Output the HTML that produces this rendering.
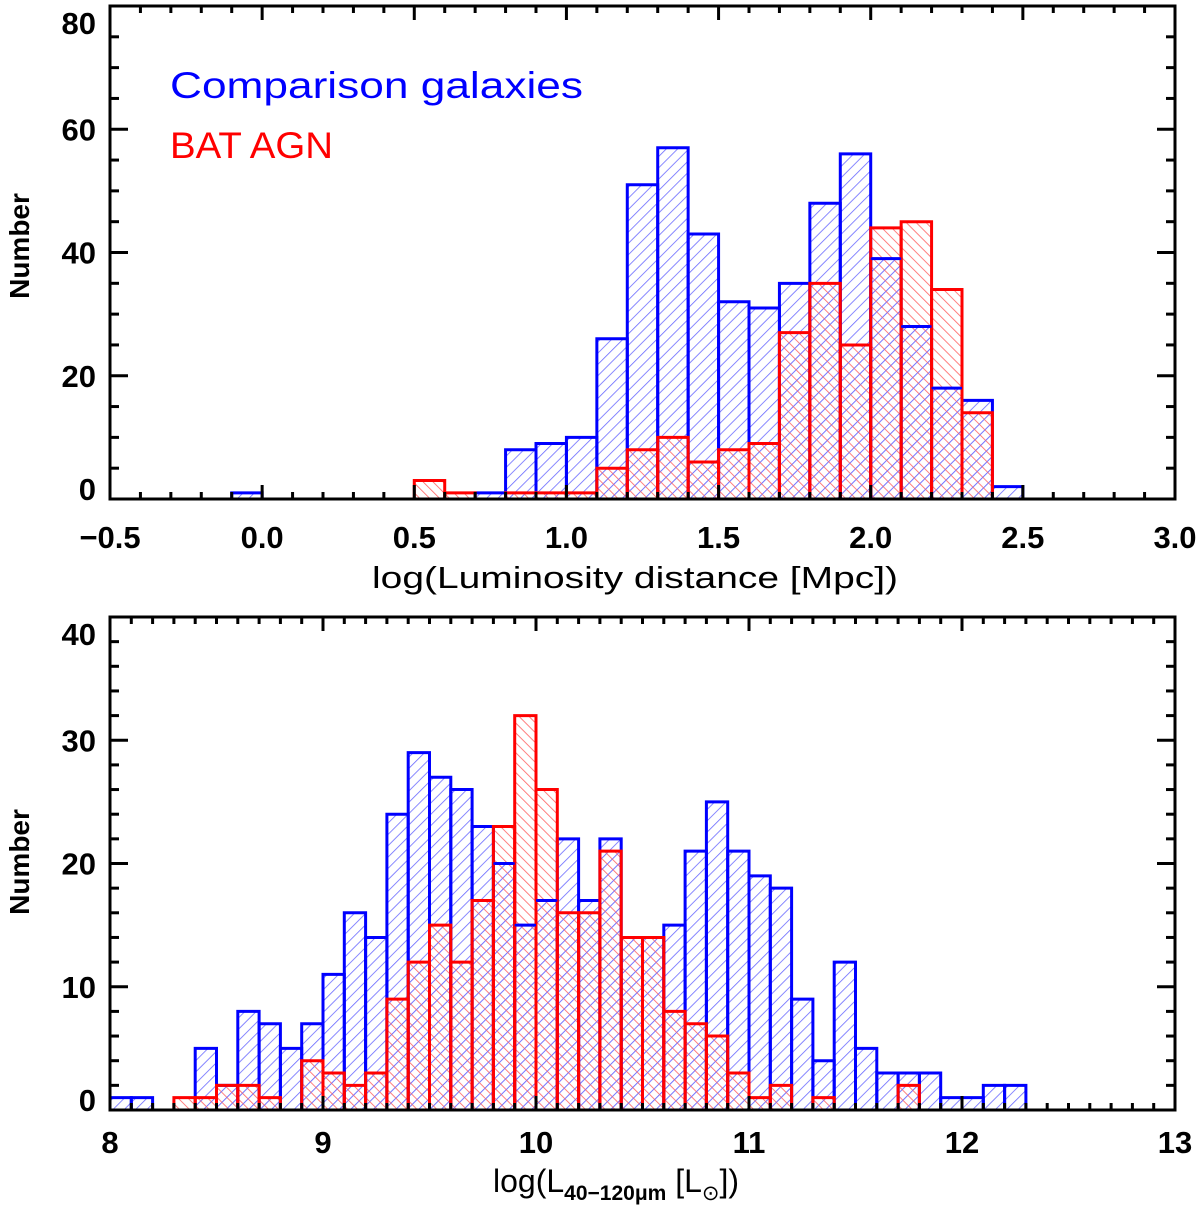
<!DOCTYPE html>
<html><head><meta charset="utf-8"><style>
html,body{margin:0;padding:0;background:#fff}
svg{display:block}
text{font-family:"Liberation Sans",sans-serif;fill:#000}
</style></head><body>
<svg id="chart" width="1200" height="1215" viewBox="0 0 1200 1215" xmlns="http://www.w3.org/2000/svg">
<defs>
<pattern id="hb" patternUnits="userSpaceOnUse" width="8" height="8" patternTransform="rotate(45)"><line x1="0" y1="0" x2="0" y2="8" stroke="#6a6aff" stroke-width="1.6"/></pattern>
<pattern id="hr" patternUnits="userSpaceOnUse" width="7" height="7" patternTransform="rotate(-45)"><line x1="0" y1="0" x2="0" y2="7" stroke="#ff6a6a" stroke-width="1.7"/></pattern>
</defs>
<g id="top"></g>
<g id="bot"></g>
<text x="170" y="98" font-size="37" style="fill:#0000ff" textLength="413" lengthAdjust="spacingAndGlyphs">Comparison galaxies</text>
<text x="170" y="158" font-size="37" style="fill:#ff0000" textLength="163" lengthAdjust="spacingAndGlyphs">BAT AGN</text>
<text x="372" y="588" font-size="31" textLength="526" lengthAdjust="spacingAndGlyphs">log(Luminosity distance [Mpc])</text>
<text x="493" y="1192" font-size="32">log(L<tspan font-size="21" dy="8" font-weight="bold">40−120μm</tspan><tspan dy="-8"> [L</tspan><tspan font-size="21" dy="8">⊙</tspan><tspan dy="-8">])</tspan></text>
<text transform="translate(29,246) rotate(-90)" font-size="28" font-weight="bold" text-anchor="middle">Number</text>
<text transform="translate(29,862) rotate(-90)" font-size="28" font-weight="bold" text-anchor="middle">Number</text>
</svg>
<script>
// Top panel data (bins of 0.1 starting at -0.1)
const topStart = -0.1;
const topBlue = [1,0,0,0,0,0,0,0,1,8,9,10,26,51,57,43,32,31,35,48,56,39,28,18,16,2];
const topRed  = [0,0,0,0,0,0,3,1,0,1,1,1,5,8,10,6,8,9,27,35,25,44,45,34,14,0];
const topXTicks = ["−0.5","0.0","0.5","1.0","1.5","2.0","2.5","3.0"];
const topYTicks = ["0","20","40","60","80"];
// Bottom panel data (bins of 0.1 starting at 8.0)
const botStart = 8.0;
const botBlue = [1,1,0,0,5,2,8,7,5,7,11,16,14,24,29,27,26,23,20,15,17,22,17,22,14,14,15,21,25,21,19,18,9,4,12,5,3,3,3,1,1,2,2];
const botRed  = [0,0,0,1,1,2,2,1,0,4,3,2,3,9,12,15,12,17,23,32,26,16,16,21,14,14,8,7,6,3,1,2,0,1,0,0,0,2,0,0,0,0,0];
const botXTicks = ["8","9","10","11","12","13"];
const botYTicks = ["0","10","20","30","40"];

const NS="http://www.w3.org/2000/svg";
function mk(parent,tag,attrs){const e=document.createElementNS(NS,tag);for(const k in attrs)e.setAttribute(k,attrs[k]);parent.appendChild(e);return e;}

function panel(g,cfg){
  const {x0,x1,y0,y1,xmin,xmax,ymax,start,blue,red,xt,yt,xMajor,xMinor,yMajor,yMinor,xlab}=cfg;
  const sx=v=>x0+(v-xmin)/(xmax-xmin)*(x1-x0);
  const sy=v=>y1-v/ymax*(y1-y0);
  blue.forEach((v,i)=>{ if(!v) return;
    const r=mk(g,'rect',{x:sx(start+i*0.1),y:sy(v),width:sx(start+(i+1)*0.1)-sx(start+i*0.1),height:sy(0)-sy(v),fill:'url(#hb)'});
    
    
  });
  red.forEach((v,i)=>{ if(!v) return;
    const r=mk(g,'rect',{x:sx(start+i*0.1),y:sy(v),width:sx(start+(i+1)*0.1)-sx(start+i*0.1),height:sy(0)-sy(v),fill:'url(#hr)'});
    
    
  });
  red.forEach((v,i)=>{ const b=Math.min(v,blue[i]); if(!b) return;
    mk(g,'rect',{x:sx(start+i*0.1),y:sy(b),width:sx(start+(i+1)*0.1)-sx(start+i*0.1),height:sy(0)-sy(b),fill:'url(#hb)',opacity:0.6});
  });
  function outline(arr,color){
    for(let i=0;i<arr.length;i++){
      const v=arr[i]; if(!v) continue;
      const a=sx(start+i*0.1), b=sx(start+(i+1)*0.1);
      mk(g,'path',{d:`M${a},${sy(0)}V${sy(v)}H${b}V${sy(0)}`,fill:'none',stroke:color,'stroke-width':3});
    }
  }
  outline(blue,'#0000ff');
  outline(red,'#ff0000');
  blue.forEach((v,i)=>{ if(v && red[i]>v){
    mk(g,'line',{x1:sx(start+i*0.1),x2:sx(start+(i+1)*0.1),y1:sy(v),y2:sy(v),stroke:'#0000ff','stroke-width':2.5,'stroke-dasharray':'8,6'});
  }});
  const f=mk(g,'rect',{x:x0,y:y0,width:x1-x0,height:y1-y0,fill:'none',stroke:'#000','stroke-width':3});
  
  
  for(let v=xmin;v<=xmax+1e-9;v+=xMinor){
    const isMaj=Math.abs(v/xMajor-Math.round(v/xMajor))<1e-6;
    const L=isMaj?14:7, x=sx(v);
    mk(g,'line',{x1:x,x2:x,y1:y1,y2:y1-L,stroke:'#000','stroke-width':3});
    mk(g,'line',{x1:x,x2:x,y1:y0,y2:y0+L,stroke:'#000','stroke-width':3});
  }
  xt.forEach((t,i)=>{const v=xmin+i*xMajor;
    const e=mk(g,'text',{x:sx(v),y:y1+xlab,'font-size':31,'font-weight':'bold','text-anchor':'middle'});e.textContent=t;
    
    
  });
  for(let v=0;v<=ymax+1e-9;v+=yMinor){
    const isMaj=Math.abs(v/yMajor-Math.round(v/yMajor))<1e-6;
    const L=isMaj?18:9, y=sy(v);
    mk(g,'line',{x1:x0,x2:x0+L,y1:y,y2:y,stroke:'#000','stroke-width':3});
    mk(g,'line',{x1:x1,x2:x1-L,y1:y,y2:y,stroke:'#000','stroke-width':3});
  }
  yt.forEach((t,i)=>{const v=i*yMajor;
    let yy=sy(v)+11;
    if(i===0) yy=sy(v)+1;
    if(i===yt.length-1) yy=sy(v)+28;
    const e=mk(g,'text',{x:x0-14,y:yy,'font-size':31,'font-weight':'bold','text-anchor':'end'});e.textContent=t;
    
    
  });
}
panel(document.getElementById('top'),{x0:110,x1:1175,y0:6,y1:499,xmin:-0.5,xmax:3.0,ymax:80,start:topStart,blue:topBlue,red:topRed,xt:topXTicks,yt:topYTicks,xMajor:0.5,xMinor:0.1,yMajor:20,yMinor:5,xlab:49});
panel(document.getElementById('bot'),{x0:110,x1:1175,y0:617,y1:1110,xmin:8,xmax:13,ymax:40,start:botStart,blue:botBlue,red:botRed,xt:botXTicks,yt:botYTicks,xMajor:1,xMinor:0.1,yMajor:10,yMinor:2,xlab:43});
</script>
</body></html>
